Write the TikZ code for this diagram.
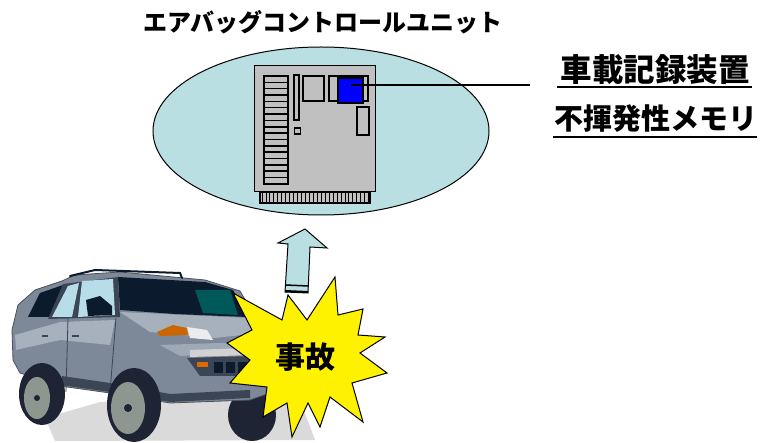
\documentclass[tikz,border=0pt]{standalone}
\usepackage{fontspec}
\newfontfamily\jpfont{Noto Sans CJK JP}
\usepackage{tikz}
\usetikzlibrary{arrows,shapes.geometric}

\definecolor{ecublue}{HTML}{B9DFE2}
\definecolor{boardgray}{HTML}{C0C0C0}
\definecolor{chipblue}{HTML}{0000FF}
\definecolor{carbody}{HTML}{7D8898}
\definecolor{carlight}{HTML}{A7B1BE}
\definecolor{cardark}{HTML}{3C4555}
\definecolor{glassdark}{HTML}{0B1A2D}
\definecolor{glasslight}{HTML}{B7DDE8}
\definecolor{tyre}{HTML}{1E2434}
\definecolor{rim}{HTML}{8E978F}
\definecolor{shadowgray}{HTML}{DADADA}

\begin{document}
\begin{tikzpicture}[x=1pt,y=-1pt,
    jp/.style={font=\jpfont\bfseries\fontsize{#1}{#1}\selectfont,inner sep=1pt},
    part/.style={draw,line width=1.1pt,fill=boardgray,inner sep=0pt},
    uline/.style={line width=1.8pt}]
\useasboundingbox (0,0) rectangle (763,443);

% control unit
\node[draw,line width=1pt,fill=ecublue,ellipse,minimum width=336pt,minimum height=168pt] (ecu) at (321,131) {};
\node[jp=24] (title) at (323,22) {エアバッグコントロールユニット};
\node[part,minimum width=110pt,minimum height=11pt] (pins) at (315,197.5) {};
\foreach \i in {0,...,27}
    \draw[line width=0.9pt] (262+\i*3.95,192) -- (262+\i*3.95,203);
\node[part,line width=1pt,minimum width=121pt,minimum height=126pt] (board) at (314.5,129) {};
\foreach \i in {0,...,16}
    \draw[part,line width=1.5pt] (264,76+\i*6.35) rectangle (288,82.35+\i*6.35);
\node[part,minimum width=5pt,minimum height=45pt] (bar) at (296.5,97.5) {};
\node[part,minimum width=6pt,minimum height=6pt] (dot) at (297.5,131) {};
\node[part,minimum width=21pt,minimum height=25pt] (sq) at (313.5,88.5) {};
\node[part,minimum width=39pt,minimum height=25pt] (sq2) at (348.5,88.5) {};
\node[part,minimum width=12pt,minimum height=28pt] (ic) at (363,121) {};
\node[draw,line width=1.1pt,fill=chipblue,minimum width=25pt,minimum height=25pt,inner sep=0pt] (mem) at (350.5,90.5) {};

% labels
\node[jp=31.5] (rec) at (655,70) {車載記録装置};
\node[jp=29] (nvm) at (656,118.5) {不揮発性メモリ};
\draw[uline] ([shift={(-98,17)}]rec.center) -- ([shift={(97,17)}]rec.center);
\draw[uline] ([shift={(-103,18.5)}]nvm.center) -- ([shift={(101,18.5)}]nvm.center);
\coordinate (lend) at (530,85);
\draw[line width=1.2pt] (mem.center |- lend) -- (lend);

% car
\fill[shadowgray] (45,418) -- (100,402) -- (300,400) -- (315,440) -- (55,441) -- cycle;
\fill[tyre] (252,415) ellipse [x radius=24pt,y radius=26pt];
\draw[carbody!60!black,line width=0.8pt,fill=carbody] (12,330) -- (18,305) -- (35,290) -- (62,281) -- (75,275)
    -- (120,272) -- (205,280) -- (240,291) -- (256,318) -- (280,333) -- (284,388) -- (250,400)
    -- (170,403) -- (110,393) -- (60,386) -- (20,373) -- (13,360) -- cycle;
\fill[carlight] (120,312) -- (250,318) -- (268,332) -- (215,338) -- (150,332) -- cycle;
\fill[carlight] (15,335) -- (60,322) -- (115,320) -- (110,345) -- (60,340) -- (16,350) -- cycle;
\fill[carlight!80!carbody] (160,345) -- (250,342) -- (255,352) -- (180,356) -- cycle;
\fill[cardark] (60,385) -- (110,392) -- (170,402) -- (250,398) -- (250,390) -- (170,394) -- (110,383) -- (62,376) -- cycle;
\fill[glassdark] (118,277) -- (205,282) -- (233,290) -- (248,317) -- (175,314) -- (120,310) -- cycle;
\fill[teal!70!black] (195,290) -- (230,290) -- (238,315) -- (203,313) -- cycle;
\fill[glassdark] (40,293) -- (63,285) -- (53,317) -- (28,317) -- cycle;
\fill[cardark] (63,284) -- (118,277) -- (120,317) -- (48,319) -- cycle;
\fill[glasslight] (82,281) -- (113,279) -- (115,315) -- (78,317) -- cycle;
\fill[glasslight] (68,286) -- (79,283) -- (72,317) -- (52,317) -- cycle;
\fill[glassdark] (86,300) -- (100,296) -- (112,306) -- (112,315) -- (88,316) -- cycle;
\draw[glassdark,line width=2pt,line cap=round] (70,276) -- (95,270) -- (180,273) -- (182,278);
\draw[cardark,line width=0.8pt] (68,318) -- (66,392);
\draw[cardark,line width=0.8pt] (116,318) -- (110,392);
\draw[cardark,line width=1.5pt] (42,336) -- (48,336);
\draw[cardark,line width=1.5pt] (72,336) -- (79,336);
\fill[orange!80!black] (157,332) -- (173,325) -- (187,328) -- (188,335) -- (160,336) -- cycle;
\fill[gray!15] (187,327) -- (207,330) -- (213,340) -- (190,338) -- cycle;
\fill[cardark] (187,358) -- (252,356) -- (254,376) -- (200,376) -- cycle;
\foreach \x in {214,226,238}
    \fill[glassdark] (\x,362) rectangle (\x+9,373);
\fill[orange!85!black] (197,362) rectangle (208,367);
\fill[gray!35] (190,350) -- (250,348) -- (252,355) -- (190,357) -- cycle;
\fill[tyre] (42,394) ellipse [x radius=23pt,y radius=31pt];
\fill[rim] (37,398) ellipse [x radius=13pt,y radius=21pt];
\fill[tyre] (134,405) ellipse [x radius=27pt,y radius=37pt];
\fill[rim] (128,408) ellipse [x radius=17pt,y radius=26pt];
\fill[tyre] (37,398) circle (3pt) (128,408) circle (4pt);

% arrow and accident
\draw[line width=1pt,fill=ecublue] (305,229) -- (327,248) -- (310,247) -- (308,293) -- (285,292)
    -- (288,244) -- (278,243) -- cycle;
\draw[line width=1.5pt] (285.5,285) -- (308.2,286);
\draw[line width=2pt] (285,291) -- (308,292);
\draw[line width=1pt,fill=yellow] (233,293) -- (282,320) -- (288,295) -- (307,320) -- (335,277)
    -- (338,315) -- (363,309) -- (358,335) -- (385,337) -- (360,353) -- (387,373) -- (352,383)
    -- (363,422) -- (330,397) -- (320,427) -- (308,403) -- (292,437) -- (287,403) -- (263,417)
    -- (267,387) -- (230,383) -- (250,360) -- (227,343) -- (252,330) -- cycle;
\node[jp=30] (acc) at (305,357) {事故};
\end{tikzpicture}
\end{document}
